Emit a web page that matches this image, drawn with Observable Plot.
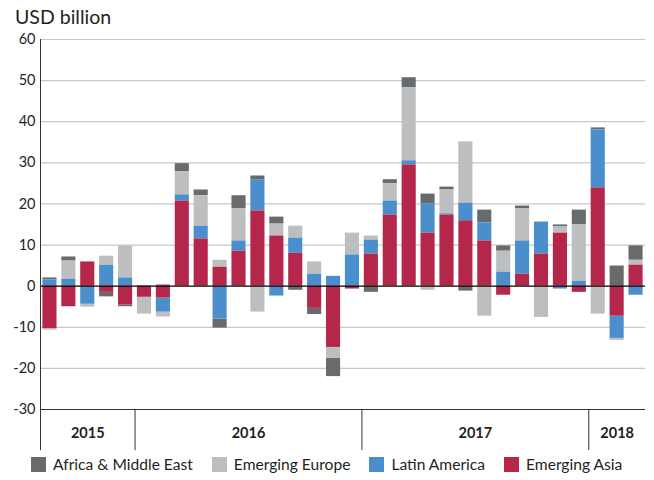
<!DOCTYPE html>
<html><head><meta charset="utf-8">
<script src="https://cdn.jsdelivr.net/npm/d3@7"></script>
<script src="https://cdn.jsdelivr.net/npm/@observablehq/plot@0.6"></script>
<style>
body{margin:0;background:#fff;font-family:Lato,sans-serif;color:#231f20;}
#wrap{position:relative;width:654px;height:480px;overflow:hidden;}
#title{position:absolute;left:15px;top:5px;font-size:19.5px;line-height:23px;}
#chart{position:absolute;left:0;top:0;}
#legend{position:absolute;left:31px;top:455px;display:flex;align-items:center;font-size:15.6px;line-height:18px;}
.item{display:flex;align-items:center;margin-right:19px;}
.sw{width:15px;height:15px;margin-right:7px;}
</style></head>
<body><div id="wrap"><div id="chart"></div><div id="title">USD billion</div><div id="legend"></div></div>
<script>
const months = ["2015-08","2015-09","2015-10","2015-11","2015-12",
  "2016-01","2016-02","2016-03","2016-04","2016-05","2016-06","2016-07","2016-08","2016-09","2016-10","2016-11","2016-12",
  "2017-01","2017-02","2017-03","2017-04","2017-05","2017-06","2017-07","2017-08","2017-09","2017-10","2017-11","2017-12",
  "2018-01","2018-02","2018-03"];
const regions = ["Africa & Middle East","Emerging Europe","Latin America","Emerging Asia"];
const colors = ["#676b6e","#bdbec0","#4a8fcc","#b5264b"];
const stackOrder = ["Emerging Asia","Latin America","Emerging Europe","Africa & Middle East"];
const asia   = [-10.3,-5.0,5.9,-1.5,-4.6,-2.7,-2.9,20.7,11.5,4.6,8.5,18.3,12.2,8.0,-5.4,-14.9,-0.7,7.8,17.3,29.5,12.9,17.3,15.9,11.0,-2.2,2.9,7.8,12.9,-1.5,23.9,-7.3,5.1];
const latam  = [1.5,1.7,-4.4,5.1,2.0,0,-3.4,1.5,3.1,-8.0,2.5,7.6,-2.4,3.7,2.9,2.4,7.6,3.4,3.4,1.0,7.1,0.3,4.3,4.4,3.4,8.1,7.8,-0.7,1.2,14.1,-5.4,-2.2];
const europe = [-0.4,4.4,-0.7,2.2,7.8,-4.1,-1.2,5.6,7.4,1.7,7.8,-6.3,2.9,2.9,3.0,-2.7,5.3,1.0,4.2,17.8,-1.0,5.8,14.9,-7.3,5.1,7.8,-7.6,1.5,13.7,-6.8,-0.5,1.2];
const africa = [0.5,1.0,0,-1.1,-0.4,0,0.3,2.0,1.4,-2.2,3.2,0.9,1.7,-1.0,-1.5,-4.4,0,-1.5,1.0,2.4,2.4,0.7,-1.2,3.1,1.3,0.7,0,0.5,3.6,0.5,4.9,3.5];
const yTicks = [-30,-20,-10,0,10,20,30,40,50,60];

const series = {"Africa & Middle East": africa, "Emerging Europe": europe, "Latin America": latam, "Emerging Asia": asia};
const data = months.flatMap((m, i) => regions.map(r => ({i, month: m, region: r, value: series[r][i]})));
const yearNames = [...new Set(months.map(m => m.slice(0, 4)))];
const years = yearNames.map(y => {
  const idx = months.map((m, i) => m.startsWith(y) ? i : -1).filter(i => i >= 0);
  return {year: y, start: idx[0], end: idx[idx.length - 1] + 1};
});

const chart = Plot.plot({
  width: 654, height: 455,
  marginTop: 39, marginBottom: 46, marginLeft: 40, marginRight: 9,
  style: {fontFamily: "Lato, sans-serif", fontSize: "14px", color: "#231f20", background: "white", overflow: "visible"},
  x: {domain: [0, months.length], axis: null},
  y: {domain: [-30, 60], axis: null},
  color: {domain: regions, range: colors},
  marks: [
    Plot.gridY(yTicks.filter(t => t !== 0 && t !== -30), {stroke: "#c8c8c8", strokeOpacity: 1, strokeWidth: 1.2}),
    Plot.axisY(yTicks, {tickSize: 0, tickPadding: 5, fontSize: 14.5, label: null, tickFormat: d => String(d)}),
    Plot.rectY(data, Plot.stackY({x: "i", interval: 1, y: "value", fill: "region", order: stackOrder, insetLeft: 2.4, insetRight: 2.4})),
    Plot.ruleY([0], {stroke: "#000", strokeWidth: 1.3}),
    Plot.ruleY([-30], {stroke: "#333", strokeWidth: 1}),
    Plot.ruleX([0], {y1: -40, y2: 60, stroke: "#333", strokeWidth: 1}),
    Plot.ruleX(years.slice(1), {x: "start", y1: -30, y2: -40, stroke: "#333", strokeWidth: 1}),
    Plot.text(years, {x: d => (d.start + d.end) / 2, frameAnchor: "bottom", dy: 28, text: "year", fontWeight: "bold", fontSize: 14.5})
  ]
});
document.getElementById("chart").appendChild(chart);

const legend = document.getElementById("legend");
regions.forEach((r, k) => {
  const it = document.createElement("div"); it.className = "item";
  const sw = document.createElement("div"); sw.className = "sw"; sw.style.background = colors[k];
  const tx = document.createElement("span"); tx.textContent = r;
  it.appendChild(sw); it.appendChild(tx); legend.appendChild(it);
});
</script>
</body></html>
